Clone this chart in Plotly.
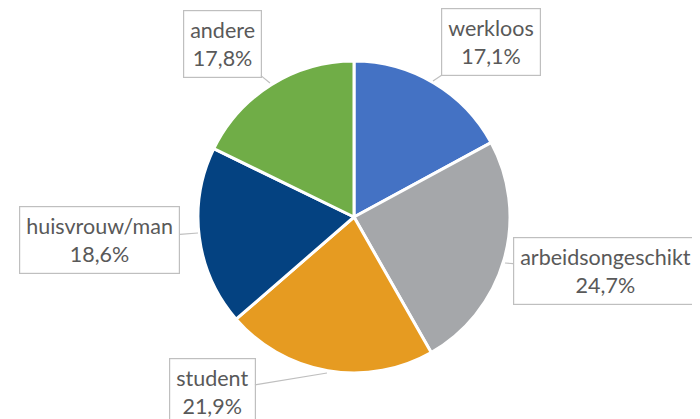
import plotly.graph_objects as go

labels = ["werkloos", "arbeidsongeschikt", "student", "huisvrouw/man", "andere"]
values = [17.1, 24.7, 21.9, 18.6, 17.8]
pct_text = ["17,1%", "24,7%", "21,9%", "18,6%", "17,8%"]
colors = ["#4472C4", "#A5A7AA", "#E69B21", "#044281", "#70AD47"]

W, H = 700, 419
OFF = 8  # page body margin shifts the figure

cx, cy, r = 354 - OFF, 217 - OFF, 156
fig = go.Figure(go.Pie(
    labels=labels, values=values, sort=False, direction="clockwise", rotation=0,
    marker=dict(colors=colors, line=dict(color="white", width=3)),
    textinfo="none", hoverinfo="label+percent", showlegend=False,
    domain=dict(x=[(cx - r) / W, (cx + r) / W], y=[(H - cy - r) / H, (H - cy + r) / H]),
))

# callout boxes: tip of the tail on the pie edge, box offset in pixels
callouts = [
    (433, 81, 58, -39),
    (505, 263, 100, 8),
    (327, 373, -115, 19),
    (198, 233, -98, 7),
    (270, 83, -48, -39),
]
for lab, pct, (tx, ty, ax, ay) in zip(labels, pct_text, callouts):
    fig.add_annotation(
        x=(tx - OFF) / W, y=1 - (ty - OFF) / H, xref="paper", yref="paper",
        text=lab + "<br>" + pct, showarrow=True, arrowhead=0, arrowwidth=1.2,
        arrowcolor="#BFBFBF", ax=ax, ay=ay, standoff=0,
        bordercolor="#BFBFBF", borderwidth=1.2, borderpad=6, bgcolor="white",
        font=dict(family="Lato, Open Sans, sans-serif", size=21.5, color="#595959"),
    )

fig.update_layout(
    width=W, height=H, margin=dict(l=0, r=0, t=0, b=0),
    paper_bgcolor="white", plot_bgcolor="white",
)
fig.write_html("out.html")
